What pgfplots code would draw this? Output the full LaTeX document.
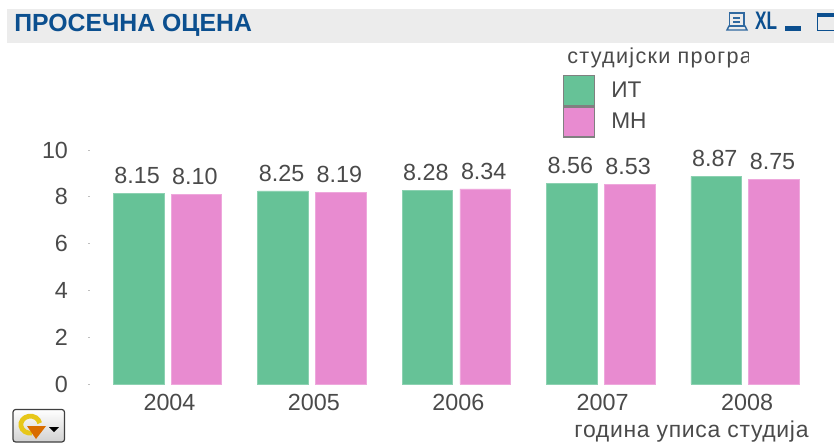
\documentclass[border=0pt]{standalone}
\usepackage{pgfplots}
\pgfplotsset{compat=1.18}
\usepackage{fontspec}
\setmainfont{Liberation Sans}
\usetikzlibrary{shadings}
\definecolor{itg}{HTML}{66C297}
\definecolor{mnp}{HTML}{E88BD0}
\definecolor{txt}{HTML}{4A4A4A}
\definecolor{ttl}{HTML}{0B4F8F}
\definecolor{band}{HTML}{ECECEC}
\begin{document}
\begin{tikzpicture}
\begin{scope}[x=0.75pt,y=-0.75pt]
\useasboundingbox (0,0) rectangle (834,446);
% title band
\fill[band] (7,9) rectangle (834,43);
\node[anchor=base west,inner sep=0,text=ttl,font=\fontsize{18.6pt}{19pt}\selectfont\bfseries] at (14,31.5) {ПРОСЕЧНА ОЦЕНА};
% window icons
\begin{scope}[draw=ttl!85,line width=1.1pt]
\draw (729.5,13) rectangle (744,26);
\draw (733,18) -- (740,18) (733,22) -- (740,22);
\draw (727,30) -- (747,30) -- (745,26) -- (729,26) -- cycle;
\end{scope}
\node[anchor=base west,inner sep=0,text=ttl,font=\fontsize{19pt}{19pt}\selectfont\bfseries,xscale=.68] at (755,29) {XL};
\fill[ttl] (785,26) rectangle (801,31);
\draw[ttl,line width=1pt] (817.5,14) rectangle (840,30.5);
\fill[ttl] (817.5,13) rectangle (840,17);
% refresh button
\draw[rounded corners=2pt,draw=black!75,line width=.9pt,top color=white,bottom color=black!18] (13,409.5) rectangle (64.5,442);
\draw[line width=3.6pt,color=yellow!75!orange!90!black] (32,433) arc (80:350:9.5 and 8.5);
\fill[orange!85!black] (27,426) -- (46,426) -- (36,439) -- cycle;
\fill[black] (49,427) -- (59,427) -- (54,432) -- cycle;
% legend title (cut off by its box)
\begin{scope}
\clip (560,44) rectangle (748,72);
\node[anchor=base west,inner sep=0,text=txt,font=\fontsize{16.2pt}{17pt}\selectfont\addfontfeature{LetterSpace=6}] at (567,63) {студијски програм};
\end{scope}
\end{scope}
\begin{axis}[
  at={(66pt,-288pt)},anchor=south west,
  scale only axis,width=547.5pt,height=175.5pt,
  xmin=-0.5506,xmax=4.505,ymin=0,ymax=10,
  axis x line*=bottom,axis y line*=left,
  axis line style={draw=none},
  xtick={0,1,2,3,4},
  xticklabels={2004,2005,2006,2007,2008},
  ytick={0,2,4,6,8,10},
  x tick style={draw=none},
  y tick style={draw=black!25,line width=.7pt},
  major tick length=1.2pt,
  tick label style={text=txt,font=\fontsize{17.5pt}{18pt}\selectfont,/pgf/number format/assume math mode=true},
  xticklabel style={xshift=1.5pt,yshift=-3.2pt},
  yticklabel style={xshift=-11.5pt},
  xlabel={година уписа студија},
  xlabel style={at={(axis description cs:0.8267,-0.205)},anchor=center,text=txt,font=\fontsize{17.2pt}{18pt}\selectfont\addfontfeature{LetterSpace=3},inner sep=0},
  ybar,
  bar width=0.35,
  point meta=y,
  nodes near coords,
  nodes near coords style={text=txt,font=\fontsize{17.5pt}{18pt}\selectfont,anchor=center,yshift=13.4pt,xshift=-1.1pt,
    /pgf/number format/.cd,fixed,fixed zerofill,precision=2,assume math mode=true},
  legend cell align=left,
  legend style={draw=none,fill=none,inner sep=0pt,outer sep=0pt,
    at={(axis description cs:0.6507,1.3205)},anchor=north west,
    row sep=0pt,column sep=0pt,
    nodes={inner sep=0pt,outer sep=0pt,text=txt,font=\fontsize{17pt}{18pt}\selectfont,minimum height=22.6pt,anchor=west}},
  legend image code/.code={\draw[#1,draw=black!50,line width=.9pt,solid] (0pt,-11.3pt) rectangle (23pt,11.3pt);\path (35.5pt,0pt);},
]
\addplot[fill=itg,draw=itg!75!white,line width=.5pt,bar shift=-0.2] coordinates {(0,8.15) (1,8.25) (2,8.28) (3,8.56) (4,8.87)};
\addplot[fill=mnp,draw=mnp!75!white,line width=.5pt,bar shift=0.2] coordinates {(0,8.10) (1,8.19) (2,8.34) (3,8.53) (4,8.75)};
\legend{ИТ,МН}
\end{axis}
\end{tikzpicture}
\end{document}
